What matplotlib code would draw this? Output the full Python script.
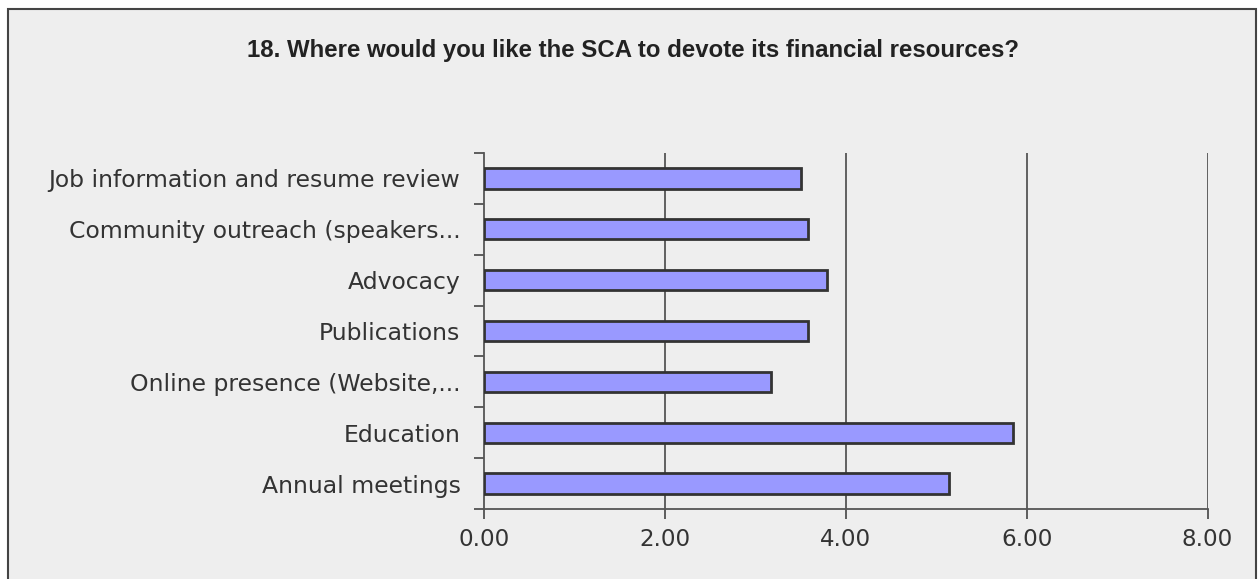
import matplotlib
matplotlib.use("Agg")
import matplotlib.pyplot as plt
from matplotlib.patches import Rectangle

# Survey question 18: mean rating per spending area (top to bottom as listed)
categories = [
    "Job information and resume review",
    "Community outreach (speakers...",
    "Advocacy",
    "Publications",
    "Online presence (Website,...",
    "Education",
    "Annual meetings",
]
scores = [3.51, 3.58, 3.79, 3.58, 3.17, 5.85, 5.14]
x_ticks = [0, 2, 4, 6, 8]
x_tick_labels = ["0.00", "2.00", "4.00", "6.00", "8.00"]

title = "18. Where would you like the SCA to devote its financial resources?"

W, H = 1259, 579
fig = plt.figure(figsize=(W / 100, H / 100), dpi=100)
fig.patch.set_facecolor("white")

# grey panel behind the chart
panel = Rectangle(
    (8 / W, -0.05), (1256 - 8) / W, 1.05 - 9 / H,
    transform=fig.transFigure, facecolor="#eeeeee",
    edgecolor="#444444", linewidth=1.5, zorder=-1,
)
fig.patches.append(panel)

ax = fig.add_axes([484 / W, 70 / H, (1207.5 - 484) / W, (426 - 70) / H])
ax.set_facecolor("none")

n = len(categories)
ypos = list(range(n - 1, -1, -1))
ax.barh(ypos, scores, height=0.4, color="#9999ff",
        edgecolor="#333333", linewidth=2, zorder=3)

ax.set_xlim(0, 8)
ax.set_ylim(-0.5, n - 0.5)

ax.set_xticks(x_ticks)
ax.set_xticklabels(x_tick_labels, fontsize=16.6, color="#333333",
                   family="DejaVu Sans")
ax.tick_params(axis="x", direction="out", length=7, width=1.2,
               color="#444444", pad=7)

ax.set_yticks(ypos)
ax.set_yticklabels(categories, fontsize=16.9, color="#333333",
                   family="DejaVu Sans")
ax.tick_params(axis="y", which="major", length=0, pad=17)
ax.set_yticks([i - 0.5 for i in range(n + 1)], minor=True)
ax.tick_params(axis="y", which="minor", direction="out", length=7.5,
               width=1.2, color="#444444")

for x in x_ticks[1:]:
    ax.axvline(x, color="#555555", linewidth=1.3, zorder=1)

for side in ("top", "right"):
    ax.spines[side].set_visible(False)
for side in ("left", "bottom"):
    ax.spines[side].set_color("#555555")
    ax.spines[side].set_linewidth(1.3)

fig.text(633 / W, 1 - 51 / H, title, ha="center", va="center",
         fontsize=17.3, fontweight="bold", color="#222222",
         family="Liberation Sans")

fig.savefig("out.png", dpi=100)
